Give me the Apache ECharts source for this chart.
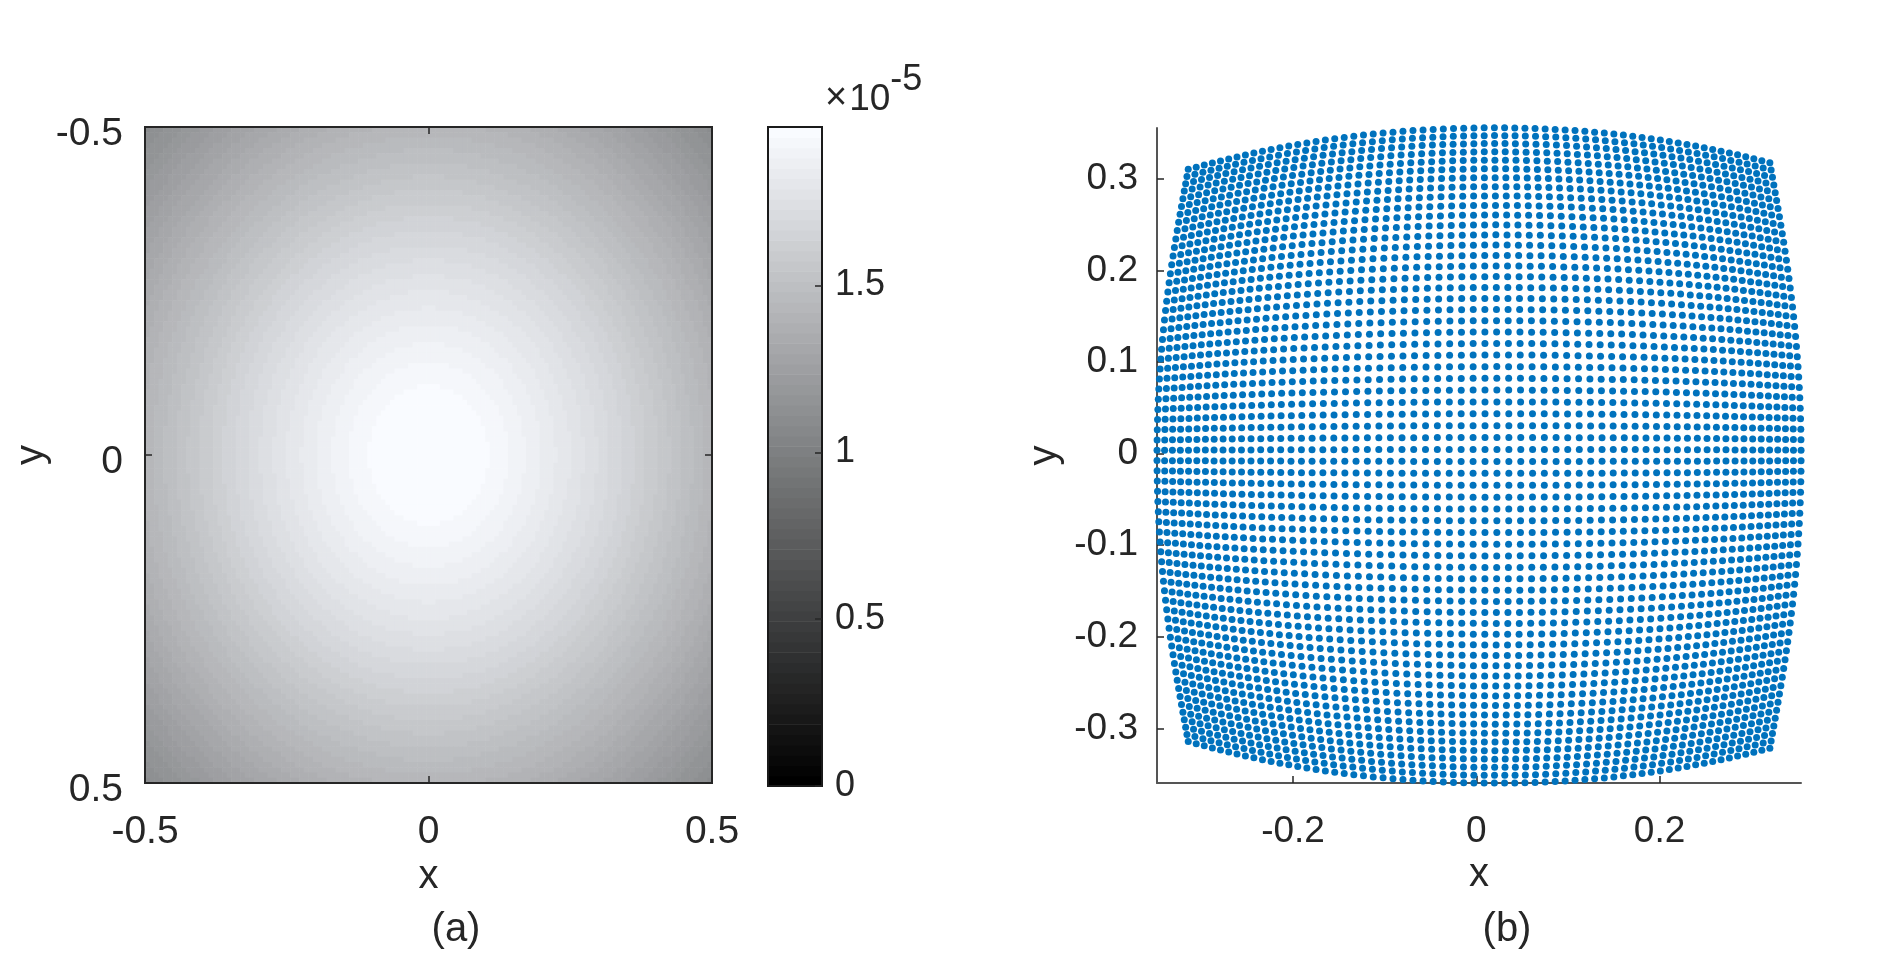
<!DOCTYPE html>
<html><head><meta charset="utf-8">
<script src="https://cdn.jsdelivr.net/npm/echarts@6/dist/echarts.min.js"></script>
<style>html,body{margin:0;padding:0;background:#fff}#c{width:1898px;height:959px}</style>
</head><body><div id="c"></div>
<script>
// ---------- Panel (a): field values (units of 1e-5) ----------
// radial profile of the (circular) field: value vs distance from the centre
const profileR = [0, 0.05, 0.10, 0.15, 0.20, 0.25, 0.30, 0.35, 0.40, 0.45, 0.50, 0.55, 0.60, 0.65, 0.70, 0.75];
const profileV = [1.975, 1.968, 1.950, 1.905, 1.850, 1.790, 1.725, 1.655, 1.580, 1.505, 1.430, 1.352, 1.272, 1.190, 1.108, 1.025];
const heatTicks = [-0.5, 0, 0.5];
const heatCells = 125;                 // cells per side of the image
const colorbarMax = 1.975;
const colorbarTicks = [0, 0.5, 1, 1.5];
const colorLevels = 64;

// ---------- Panel (b): mapped point grid ----------
const gridCount = 64;                  // points per row / column
const gridHalf = 0.4105;               // half-size of the undistorted grid
const distortX = [0.1745, -0.0305];    // radial compression terms (x)
const distortY = [0.1427, -0.0138];    // radial compression terms (y)
const keystone = 0.036;
const gridCenter = [0.003, -0.002];
const bXRange = [-0.3484, 0.3543];
const bYRange = [-0.3596, 0.3555];
const bXTicks = [-0.2, 0, 0.2];
const bYTicks = [-0.3, -0.2, -0.1, 0, 0.1, 0.2, 0.3];

// ---------- build data ----------
function profileAt(r) {
  if (r <= profileR[0]) return profileV[0];
  for (let k = 1; k < profileR.length; k++) {
    if (r <= profileR[k]) {
      const t = (r - profileR[k - 1]) / (profileR[k] - profileR[k - 1]);
      return profileV[k - 1] + t * (profileV[k] - profileV[k - 1]);
    }
  }
  return profileV[profileV.length - 1];
}
const heatStep = 1 / heatCells;
const heatData = [];
for (let i = 0; i < heatCells; i++) {
  const x = -0.5 + heatStep * (i + 0.5);
  for (let j = 0; j < heatCells; j++) {
    const y = -0.5 + heatStep * (j + 0.5);
    heatData.push([x, y, profileAt(Math.sqrt(x * x + y * y))]);
  }
}
function grayColor(v) {
  let lvl = Math.floor(v / colorbarMax * colorLevels);
  lvl = Math.max(0, Math.min(colorLevels - 1, lvl));
  const g = 255 * lvl / (colorLevels - 1);
  return 'rgb(' + Math.round(g * 0.975) + ',' + Math.round(g * 0.985) + ',' + Math.round(g) + ')';
}
const barData = [];
for (let k = 0; k < colorLevels; k++) {
  barData.push([k * colorbarMax / colorLevels, (k + 1) * colorbarMax / colorLevels, (k + 0.5) * colorbarMax / colorLevels]);
}
const scatterData = [];
for (let i = 0; i < gridCount; i++) {
  const u = -gridHalf + 2 * gridHalf * i / (gridCount - 1);
  for (let j = 0; j < gridCount; j++) {
    const w = -gridHalf + 2 * gridHalf * j / (gridCount - 1);
    const r2 = (u * u + w * w) / (gridHalf * gridHalf);
    const x = u * (1 - distortX[0] * r2 - distortX[1] * r2 * r2);
    const y = w * (1 - distortY[0] * r2 - distortY[1] * r2 * r2) * (1 + keystone * x);
    scatterData.push([x + gridCenter[0], y + gridCenter[1]]);
  }
}

// ---------- chart ----------
const FONT = '"Liberation Sans", Arial, Helvetica, sans-serif';
const TXT = '#262626';
const tickLine = { color: TXT, width: 1.5 };
const chart = echarts.init(document.getElementById('c'), null, { renderer: 'canvas' });
chart.setOption({
  animation: false,
  backgroundColor: '#fff',
  grid: [
    { left: 145, top: 127, width: 567, height: 656, show: true, z: 5, borderColor: '#262626', borderWidth: 2, backgroundColor: 'transparent' },
    { left: 768, top: 127, width: 54, height: 659, show: true, z: 5, borderColor: '#1a1a1a', borderWidth: 2, backgroundColor: 'transparent' },
    { left: 1157, top: 128, width: 644, height: 655, show: false }
  ],
  xAxis: [
    { gridIndex: 0, type: 'value', min: -0.5, max: 0.5, position: 'bottom', z: 6,
      axisLine: { show: false, onZero: false }, splitLine: { show: false },
      axisTick: { inside: true, length: 7, customValues: heatTicks, lineStyle: tickLine },
      axisLabel: { customValues: heatTicks, margin: 30, fontFamily: FONT, fontSize: 39, color: TXT },
      name: 'x', nameLocation: 'middle', nameGap: 60, nameTextStyle: { fontFamily: FONT, fontSize: 40, color: TXT } },
    { gridIndex: 0, type: 'value', min: -0.5, max: 0.5, position: 'top', z: 6,
      axisLine: { show: false, onZero: false }, splitLine: { show: false },
      axisTick: { inside: true, length: 7, customValues: heatTicks, lineStyle: tickLine },
      axisLabel: { show: false } },
    { gridIndex: 1, type: 'value', min: 0, max: 1, show: false, axisLine: { onZero: false } },
    { gridIndex: 2, type: 'value', min: bXRange[0], max: bXRange[1], position: 'bottom',
      axisLine: { show: true, onZero: false, lineStyle: { color: '#555', width: 2 } }, splitLine: { show: false },
      axisTick: { inside: true, length: 7, customValues: bXTicks, lineStyle: tickLine },
      axisLabel: { customValues: bXTicks, margin: 30, fontFamily: FONT, fontSize: 37, color: TXT },
      name: 'x', nameLocation: 'middle', nameGap: 60, nameTextStyle: { fontFamily: FONT, fontSize: 40, color: TXT } }
  ],
  yAxis: [
    { gridIndex: 0, type: 'value', min: -0.5, max: 0.5, inverse: true, position: 'left', z: 6,
      axisLine: { show: false, onZero: false }, splitLine: { show: false },
      axisTick: { inside: true, length: 7, customValues: heatTicks, lineStyle: tickLine },
      axisLabel: { customValues: heatTicks, margin: 22, fontFamily: FONT, fontSize: 39, color: TXT, verticalAlign: 'top', lineHeight: 14 },
      name: 'y', nameLocation: 'middle', nameGap: 92, nameTextStyle: { fontFamily: FONT, fontSize: 40, color: TXT } },
    { gridIndex: 0, type: 'value', min: -0.5, max: 0.5, inverse: true, position: 'right', z: 6,
      axisLine: { show: false, onZero: false }, splitLine: { show: false },
      axisTick: { inside: true, length: 7, customValues: heatTicks, lineStyle: tickLine },
      axisLabel: { show: false } },
    { gridIndex: 1, type: 'value', min: 0, max: colorbarMax, position: 'right', z: 6,
      axisLine: { show: false, onZero: false }, splitLine: { show: false },
      axisTick: { inside: true, length: 7, customValues: colorbarTicks, lineStyle: tickLine },
      axisLabel: { customValues: colorbarTicks, margin: 13, fontFamily: FONT, fontSize: 36, color: TXT } },
    { gridIndex: 2, type: 'value', min: bYRange[0], max: bYRange[1], position: 'left',
      axisLine: { show: true, onZero: false, lineStyle: { color: '#555', width: 2 } }, splitLine: { show: false },
      axisTick: { inside: true, length: 7, customValues: bYTicks, lineStyle: tickLine },
      axisLabel: { customValues: bYTicks, margin: 19, fontFamily: FONT, fontSize: 37, color: TXT },
      name: 'y', nameLocation: 'middle', nameGap: 92, nameTextStyle: { fontFamily: FONT, fontSize: 40, color: TXT } }
  ],
  series: [
    { type: 'custom', name: 'field', xAxisIndex: 0, yAxisIndex: 0, data: heatData, progressive: 0, z: 2,
      renderItem: function (params, api) {
        const x = api.value(0), y = api.value(1), h = heatStep / 2;
        const p0 = api.coord([x - h, y - h]);
        const p1 = api.coord([x + h, y + h]);
        return { type: 'rect',
          shape: { x: Math.min(p0[0], p1[0]), y: Math.min(p0[1], p1[1]),
                   width: Math.abs(p1[0] - p0[0]) + 0.6, height: Math.abs(p1[1] - p0[1]) + 0.6 },
          style: { fill: grayColor(api.value(2)) } };
      } },
    { type: 'custom', name: 'colorbar', xAxisIndex: 2, yAxisIndex: 2, data: barData, progressive: 0, z: 2,
      renderItem: function (params, api) {
        const p0 = api.coord([0, api.value(0)]);
        const p1 = api.coord([1, api.value(1)]);
        return { type: 'rect',
          shape: { x: p0[0], y: p1[1], width: p1[0] - p0[0], height: p0[1] - p1[1] + 0.6 },
          style: { fill: grayColor(api.value(2)) } };
      } },
    { type: 'scatter', name: 'points', xAxisIndex: 3, yAxisIndex: 3, data: scatterData,
      symbol: 'circle', symbolSize: 7, clip: false, progressive: 0, large: false,
      itemStyle: { color: '#0072BD', opacity: 1 } }
  ],
  graphic: [
    { type: 'text', left: 825, top: 62, z: 10,
      style: { text: '{m|×}{b|10}{s|-5}', fontFamily: FONT, fill: TXT,
        rich: { m: { fontSize: 38, fontFamily: FONT, color: TXT, verticalAlign: 'bottom', padding: [0, 2, 0, 0] },
                b: { fontSize: 37, fontFamily: FONT, color: TXT, verticalAlign: 'bottom' },
                s: { fontSize: 36, fontFamily: FONT, color: TXT, verticalAlign: 'bottom', padding: [0, 0, 20, 0] } } } },
    { type: 'text', x: 456, y: 930, z: 10,
      style: { text: '(a)', fontFamily: FONT, fontSize: 40, fill: TXT, align: 'center', verticalAlign: 'middle' } },
    { type: 'text', x: 1507, y: 930, z: 10,
      style: { text: '(b)', fontFamily: FONT, fontSize: 40, fill: TXT, align: 'center', verticalAlign: 'middle' } }
  ]
});
</script>
</body></html>
